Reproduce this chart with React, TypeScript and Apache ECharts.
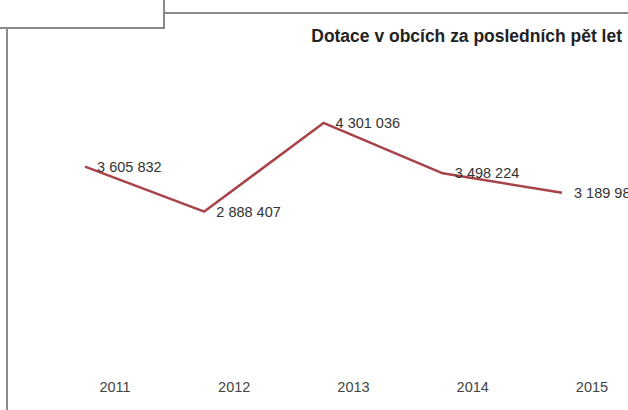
import React, { useEffect, useRef } from "react";
import * as echarts from "echarts";

const years = ["2011", "2012", "2013", "2014", "2015"];
const values = [3605832, 2888407, 4301036, 3498224, 3189980];
const title = "Dotace v obcích za posledních pět let";

const fmt = (v: number) => String(v).replace(/\B(?=(\d{3})+(?!\d))/g, " ");

export default function App() {
  const ref = useRef<HTMLDivElement>(null);
  useEffect(() => {
    if (!ref.current) return;
    const chart = echarts.init(ref.current, null, { renderer: "svg" });
    chart.setOption({
      animation: false,
      backgroundColor: "#ffffff",
      grid: { left: 25.4, right: 6.4, top: 79, bottom: 17 },
      xAxis: {
        type: "category",
        data: years,
        boundaryGap: true,
        axisLine: { show: false },
        axisTick: { show: false },
        splitLine: { show: false },
        axisLabel: {
          interval: 0,
          margin: -14,
          padding: [0, 0, 0, 60],
          fontFamily: "Liberation Sans, Arial, sans-serif",
          fontSize: 14.5,
          color: "#444",
        },
      },
      yAxis: {
        type: "value",
        min: 0,
        max: 5000000,
        show: false,
        splitLine: { show: false },
      },
      series: [
        {
          type: "line",
          data: values,
          showSymbol: true,
          symbol: "circle",
          symbolSize: 0.1,
          itemStyle: { color: "rgba(0,0,0,0)", borderWidth: 0 },
          lineStyle: { color: "#a8434a", width: 2.5 },
          label: {
            show: true,
            position: "right",
            distance: 12,
            formatter: (p: any) => fmt(p.value),
            fontFamily: "Liberation Sans, Arial, sans-serif",
            fontSize: 14.5,
            color: "#333",
          },
        },
      ],
      graphic: [
        {
          type: "rect",
          shape: { x: -2, y: -2, width: 166, height: 30 },
          style: { fill: "#fff", stroke: "#8a8a8a", lineWidth: 2 },
        },
        {
          type: "line",
          shape: { x1: 164, y1: 13, x2: 630, y2: 13 },
          style: { stroke: "#8a8a8a", lineWidth: 2 },
        },
        {
          type: "line",
          shape: { x1: 7, y1: 28, x2: 7, y2: 412 },
          style: { stroke: "#8a8a8a", lineWidth: 2 },
        },
        {
          type: "text",
          x: 622,
          y: 35,
          scaleX: 0.92,
          style: {
            text: title,
            font: "bold 19px 'Liberation Sans', Arial, sans-serif",
            fill: "#222",
            align: "right",
            verticalAlign: "middle",
          },
        },
      ],
    });
    return () => chart.dispose();
  }, []);
  return (
    <div
      ref={ref}
      style={{ position: "fixed", left: 0, top: 0, width: 628, height: 410, overflow: "hidden" }}
    />
  );
}
